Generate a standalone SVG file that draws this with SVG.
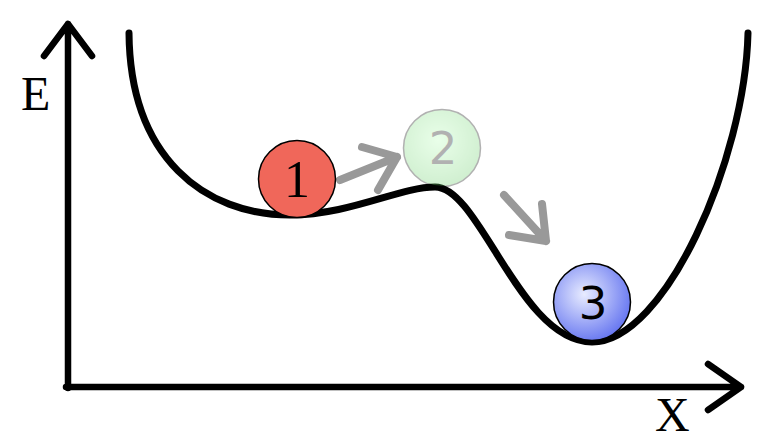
<svg xmlns="http://www.w3.org/2000/svg" width="779" height="442" viewBox="0 0 779 442">
<style>
.ax{fill:none;stroke:#000;stroke-width:6.5;stroke-linecap:round;stroke-linejoin:round}
.crv{fill:none;stroke:#000;stroke-width:7;stroke-linecap:round}
.arr{fill:none;stroke:#999;stroke-width:8;stroke-linecap:round;stroke-linejoin:round}
.lbl{font-family:"Liberation Serif",serif;font-size:48px;fill:#000}
.ball{stroke:#000;stroke-width:1.5}
.num{text-anchor:middle;fill:#000}
.serif{font-family:"Liberation Serif",serif;font-size:52px}
.sans{font-family:"DejaVu Sans",sans-serif;font-size:45px}
</style>
<defs>
<radialGradient id="g2" cx="0.45" cy="0.4" r="0.6">
<stop offset="0" stop-color="#b8ffb8"/>
<stop offset="1" stop-color="#66cc66"/>
</radialGradient>
<radialGradient id="g3" cx="0.4" cy="0.4" r="0.65">
<stop offset="0" stop-color="#e8ecff"/>
<stop offset="1" stop-color="#6474f0"/>
</radialGradient>
</defs>
<g id="axes">
<path class="ax" d="M68,388 V24 M44,56 L68,24 L92,56"/>
<path class="ax" d="M66,387 H741 M708,364 L741,387 L708,410"/>
<text class="lbl" x="21" y="110">E</text>
<text class="lbl" x="655" y="431">X</text>
</g>
<g id="connectors">
<path class="crv" d="M129,33 C130,158 205,215 290,215 C350,215 400,187 435,187 C480,187 520,342 592,342 C665,342 745,160 748,33"/>
<path class="arr" d="M340,180 L397,157 M362,147 L397,157 L378,190"/>
<path class="arr" d="M504,195 L546,241 M542,204 L546,241 L509,235"/>
</g>
<g id="ball1">
<circle class="ball" cx="297" cy="179" r="38.5" fill="#f0675a"/>
<text class="num serif" x="297" y="197">1</text>
</g>
<g id="ball2" opacity="0.3">
<circle class="ball" cx="442" cy="148" r="38.5" fill="url(#g2)"/>
<text class="num sans" x="443" y="164">2</text>
</g>
<g id="ball3">
<circle class="ball" cx="592" cy="302" r="38.5" fill="url(#g3)"/>
<text class="num sans" x="593" y="319">3</text>
</g>
</svg>
